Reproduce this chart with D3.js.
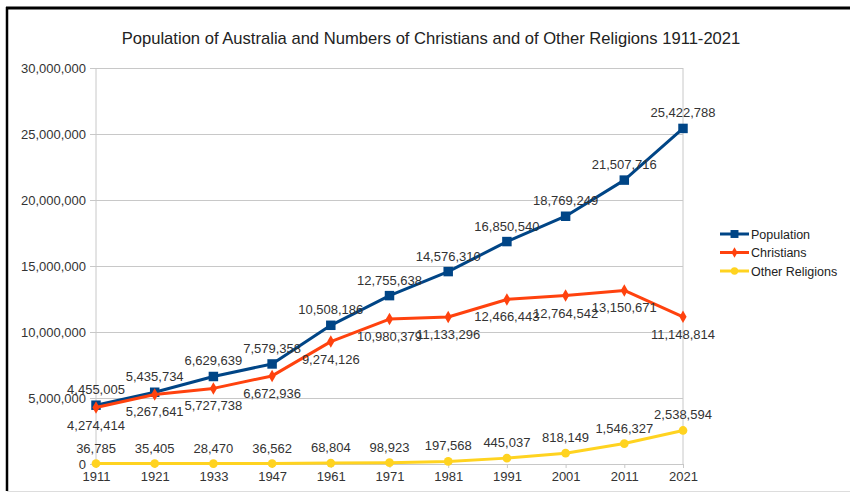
<!DOCTYPE html>
<html>
<head>
<meta charset="utf-8">
<script src="https://cdn.jsdelivr.net/npm/d3@7"></script>
<style>
  body { margin: 0; background: #fff; }
  text { font-family: "Liberation Sans", Arial, sans-serif; }
</style>
</head>
<body>
<div id="chart"></div>
<script>
// Chart data
var years = ["1911", "1921", "1933", "1947", "1961", "1971", "1981", "1991", "2001", "2011", "2021"];
var population = [4455005, 5435734, 6629639, 7579358, 10508186, 12755638, 14576310, 16850540, 18769249, 21507716, 25422788];
var christians = [4274414, 5267641, 5727738, 6672936, 9274126, 10980379, 11133296, 12466443, 12764542, 13150671, 11148814];
var otherReligions = [36785, 35405, 28470, 36562, 68804, 98923, 197568, 445037, 818149, 1546327, 2538594];
var yTicks = [0, 5000000, 10000000, 15000000, 20000000, 25000000, 30000000];

var series = [
  { name: "Population", values: population, color: "#004586", symbol: d3.symbolSquare, size: 90, labelPos: "above" },
  { name: "Christians", values: christians, color: "#ff420e", symbol: d3.symbolDiamond, size: 45, labelPos: "below" },
  { name: "Other Religions", values: otherReligions, color: "#ffd320", symbol: d3.symbolCircle, size: 60, labelPos: "above" }
];

var W = 850, H = 494;
var margin = { top: 68, right: 167, bottom: 30, left: 96 };
var width = W - margin.left - margin.right;
var height = H - margin.top - margin.bottom;

var svg = d3.select("#chart").append("svg")
  .attr("width", W)
  .attr("height", H);

// Frame
svg.append("rect").attr("x", 0).attr("y", 0).attr("width", W).attr("height", H).attr("fill", "#fff");
svg.append("line").attr("x1", 6).attr("x2", W).attr("y1", 8).attr("y2", 8)
  .attr("stroke", "#000").attr("stroke-width", 3);
svg.append("line").attr("x1", 7).attr("x2", 7).attr("y1", 7).attr("y2", 491)
  .attr("stroke", "#000").attr("stroke-width", 2.5);
svg.append("line").attr("x1", 7).attr("x2", W).attr("y1", 491.5).attr("y2", 491.5)
  .attr("stroke", "#ddd").attr("stroke-width", 1);

// Title
svg.append("text")
  .attr("x", 431).attr("y", 44)
  .attr("text-anchor", "middle")
  .attr("font-size", 16.6)
  .attr("fill", "#222")
  .text("Population of Australia and Numbers of Christians and of Other Religions 1911-2021");

var g = svg.append("g")
  .attr("transform", "translate(" + margin.left + "," + margin.top + ")");

var x = d3.scalePoint().domain(years).range([0, width]);
var y = d3.scaleLinear().domain([0, 30000000]).range([height, 0]);

// Y axis with gridlines
var yAxis = g.append("g")
  .call(d3.axisLeft(y).tickValues(yTicks).tickSize(-width - 6).tickPadding(4)
    .tickFormat(d3.format(",")))
  .attr("transform", "translate(-6,0)");
yAxis.select(".domain").remove();
yAxis.selectAll(".tick line").attr("stroke", "#c8c8c8").attr("x1", 0);
yAxis.selectAll(".tick text").attr("font-size", 13).attr("fill", "#333")
  .attr("font-family", "Liberation Sans, Arial, sans-serif");

// Plot area sides
g.append("line").attr("x1", 0).attr("x2", 0).attr("y1", 0).attr("y2", height).attr("stroke", "#c8c8c8");
g.append("line").attr("x1", width).attr("x2", width).attr("y1", 0).attr("y2", height).attr("stroke", "#c8c8c8");

// X axis
var xAxis = g.append("g")
  .attr("transform", "translate(0," + height + ")")
  .call(d3.axisBottom(x).tickSize(4).tickPadding(4));
xAxis.select(".domain").remove();
xAxis.selectAll(".tick line").attr("stroke", "#c8c8c8");
xAxis.selectAll(".tick text").attr("font-size", 13).attr("fill", "#333")
  .attr("font-family", "Liberation Sans, Arial, sans-serif");

var line = d3.line()
  .x(function (d, i) { return x(years[i]); })
  .y(function (d) { return y(d); });

series.forEach(function (s) {
  g.append("path")
    .datum(s.values)
    .attr("fill", "none")
    .attr("stroke", s.color)
    .attr("stroke-width", 3)
    .attr("stroke-linejoin", "round")
    .attr("d", line);

  g.selectAll(null)
    .data(s.values)
    .enter()
    .append("path")
    .attr("d", d3.symbol().type(s.symbol).size(s.size))
    .attr("fill", s.color)
    .attr("transform", function (d, i) { return "translate(" + x(years[i]) + "," + y(d) + ")"; });
});

// Data labels
series.forEach(function (s) {
  g.selectAll(null)
    .data(s.values)
    .enter()
    .append("text")
    .attr("x", function (d, i) { return x(years[i]); })
    .attr("y", function (d) { return s.labelPos === "above" ? y(d) - 11 : y(d) + 22; })
    .attr("text-anchor", "middle")
    .attr("font-size", 13)
    .attr("fill", "#333")
    .text(function (d) { return d3.format(",")(d); });
});

// Legend
var legend = svg.append("g").attr("transform", "translate(720,234)");
series.forEach(function (s, i) {
  var row = legend.append("g").attr("transform", "translate(0," + i * 18.5 + ")");
  row.append("line").attr("x1", 0).attr("x2", 29).attr("y1", 0).attr("y2", 0)
    .attr("stroke", s.color).attr("stroke-width", 3);
  row.append("path")
    .attr("d", d3.symbol().type(s.symbol).size(s.size * 0.7))
    .attr("fill", s.color)
    .attr("transform", "translate(14.5,0)");
  row.append("text")
    .attr("x", 31).attr("y", 4.5)
    .attr("font-size", 12.5)
    .attr("fill", "#222")
    .text(s.name);
});
</script>
</body>
</html>
